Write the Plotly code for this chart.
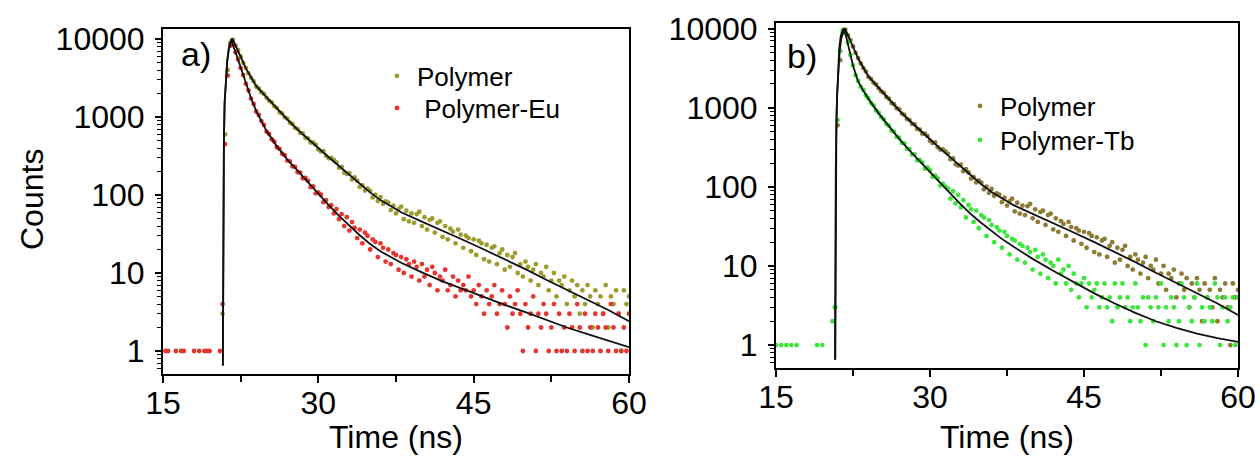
import numpy as np
import plotly.graph_objects as go

# TCSPC channel times (ns), 0.25 ns per channel from 15 to 60 ns
time_ns = np.round(np.arange(15.0, 60.0 + 1e-9, 0.25), 2).tolist()

# ---- measured counts per channel (None = empty channel) ----
polymer_pre = [None] * 23 + [3, 600, 4000, 8900]
polymer_decay = [
    9750, 8250, 7180, 5960, 4950, 4250, 3630, 3180, 2870, 2460,
    2320, 2080, 1970, 1760, 1610, 1540, 1370, 1300, 1150, 1110,
    990, 955, 845, 815, 725, 700, 625, 615, 540, 531,
    470, 472, 441, 384, 360, 366, 318, 296, 298, 281,
    262, 224, 229, 193, 186, 191, 158, 168, 152, 127,
    133, 114, 121, 113, 93, 101, 84, 94, 77, 83,
    80, 64, 73, 58, 66, 71, 49, 63, 46, 58,
    44, 57, 61, 40, 52, 36, 48, 50, 33, 44,
    46, 29, 40, 27, 37, 34, 24, 36, 31, 21,
    30, 28, 19, 27, 17, 26, 24, 15, 23, 14,
    21, 22, 13, 18, 20, 11, 17, 12, 16, 18,
    10, 13, 9, 14, 12, 8, 11, 13, 7, 10,
    9, 12, 6, 8, 10, 5, 8, 7, 9, 4,
    6, 8, 5, 7, 3, 6, 4, 7, 5, 2,
    6, 4, 5, 3, 7, 2, 5, 4, 6, 3,
    1, 6, 4, 5,
]
polymer_counts = polymer_pre + polymer_decay

eu_pre = [None, 1, 1, None, None, 1, None, 1, 1, None, None, None,
          1, None, 1, None, 1, 1, 1, None, None, None, 1,
          4, 450, 3400, 8200]
eu_decay = [
    8400, 6750, 5450, 4250, 3450, 2660, 2190, 1720, 1470, 1180,
    1060, 885, 790, 648, 603, 518, 482, 409, 391, 338,
    324, 276, 270, 233, 229, 196, 194, 164, 165, 152,
    126, 129, 105, 108, 101, 81, 86, 70, 74, 58,
    66, 49, 57, 40, 52, 35, 45, 38, 28, 36,
    24, 33, 30, 20, 27, 25, 16, 24, 21, 14,
    20, 13, 18, 17, 11, 16, 10, 15, 13, 9,
    14, 12, 8, 13, 9, 11, 7, 12, 10, 6,
    9, 8, 11, 6, 7, 9, 5, 8, 6, 7,
    6, 9, 5, 6, 4, 7, 5, 3, 6, 4,
    5, 7, 3, 4, 6, 4, 2, 5, 3, 4,
    6, 3, 1, 4, 2, 3, 5, 1, 3, 2,
    4, 3, 1, 2, 4, 1, 3, 1, 2, 1,
    3, 2, 1, 4, 2, 1, 3, 1, 2, 1,
    3, 2, 1, 3, 2, 1, 4, 2, 1, 3,
    1, 2, 1, 3,
]
eu_counts = eu_pre + eu_decay

tb_pre = [1, None, 1, None, 1, None, 1, None, 1, None, None, None,
          None, None, None, None, 1, None, 1, None, None, None, 2,
          3, 700, 5200, 9600]
tb_decay = [
    8700, 6650, 4650, 3440, 2570, 2180, 1850, 1680, 1430, 1320,
    1150, 1070, 925, 868, 760, 712, 622, 595, 515, 499,
    428, 418, 360, 355, 302, 301, 256, 258, 216, 219,
    204, 170, 176, 161, 134, 139, 128, 104, 110, 101,
    95, 71, 88, 62, 79, 55, 68, 41, 59, 52,
    36, 50, 30, 44, 41, 24, 38, 33, 20, 31,
    28, 17, 27, 24, 14, 22, 21, 12, 19, 18,
    11, 17, 15, 9, 16, 13, 8, 14, 12, 7,
    11, 10, 6, 12, 8, 9, 6, 10, 5, 8,
    6, 4, 6, 7, 3, 6, 4, 5, 6, 3,
    4, 6, 3, 4, 2, 6, 3, 4, 6, 3,
    4, 2, 3, 6, 3, 2, 4, 1, 4, 3,
    2, 4, 3, 6, 1, 3, 2, 4, 3, 1,
    2, 6, 4, 1, 3, 2, 4, 6, 1, 3,
    2, 4, 3, 2, 6, 4, 1, 3, 4, 2,
    3, 4, 1, 4,
]
tb_counts = tb_pre + tb_decay

assert len(polymer_counts) == len(time_ns)
assert len(eu_counts) == len(time_ns)
assert len(tb_counts) == len(time_ns)

# ---- fitted decay curves ----
poly_fit_t = [20.78, 20.82, 20.88, 20.95, 21.05, 21.2, 21.35, 21.5, 21.62, 21.68,
              21.8, 22.0, 22.25, 22.5, 22.75, 23.0, 23.5, 24.0, 24.5, 25.0, 25.5,
              26.0, 27.0, 28.0, 29.0, 30.0, 31.0, 32.0, 33.0, 34.0, 35.0, 36.0,
              37.0, 38.0, 40.0, 42.0, 44.0, 46.0, 48.0, 50.0, 52.0, 54.0, 56.0,
              58.0, 60.0]
poly_fit_y = [0.65, 50, 500, 1500, 3000, 5200, 7400, 9200, 9950, 10000,
              9500, 8300, 7100, 6000, 5000, 4200, 3200, 2500, 2110, 1780, 1510,
              1280, 930, 690, 520, 400, 305, 235, 178, 137, 108, 86,
              71, 60, 45.5, 35, 26.5, 20, 15, 11.2, 8.2, 6.1, 4.55,
              3.35, 2.4]

eu_fit_t = [20.78, 20.82, 20.88, 20.95, 21.05, 21.2, 21.35, 21.5, 21.6, 21.65,
            21.75, 22.0, 22.25, 22.5, 22.75, 23.0, 23.25, 23.5, 24.0, 24.5,
            25.0, 25.5, 26.0, 26.5, 27.0, 28.0, 29.0, 30.0, 31.0, 32.0, 33.0,
            34.0, 35.0, 36.0, 37.0, 38.0, 40.0, 42.0, 44.0, 46.0, 48.0, 50.0,
            52.0, 54.0, 56.0, 58.0, 60.0]
eu_fit_y = [0.65, 50, 500, 1500, 3000, 5200, 7400, 9200, 9950, 10000,
            8300, 6800, 5400, 4300, 3400, 2700, 2150, 1750, 1200, 900,
            660, 530, 420, 348, 285, 205, 145, 103, 74, 54, 40,
            30.5, 23.5, 19, 16, 13.5, 10.2, 7.8, 6.2, 4.9, 3.9, 3.15,
            2.5, 2.0, 1.65, 1.35, 1.12]

tb_fit_t = [20.74, 20.77, 20.82, 20.9, 21.0, 21.15, 21.3, 21.45, 21.55, 21.75,
            22.0, 22.25, 22.5, 22.75, 23.0, 23.5, 24.0, 25.0, 26.0, 27.0, 28.0,
            29.0, 30.0, 31.0, 32.0, 33.0, 34.0, 35.0, 36.0, 37.0, 38.0, 40.0,
            42.0, 44.0, 46.0, 48.0, 50.0, 52.0, 54.0, 56.0, 58.0, 60.0]
tb_fit_y = [0.65, 10, 150, 900, 2500, 5500, 8000, 9600, 10000, 8800,
            6600, 4700, 3400, 2600, 2150, 1650, 1300, 850, 580, 405, 290,
            210, 155, 113, 82, 60, 45, 35, 27.5, 22, 18, 12.3,
            8.7, 6.2, 4.5, 3.35, 2.55, 2.0, 1.65, 1.4, 1.22, 1.1]

# ---- styling ----
FONT = "Liberation Sans, Arial, sans-serif"
W, H = 1260, 456
OLIVE_A = "#9d9d2e"
OLIVE_B = "#8c7c34"
RED = "#e8342e"
GREEN = "#3ce63c"
FIT = "#111111"

y_major = [1, 10, 100, 1000, 10000]
y_minor = [m * d for d in (0.1, 1, 10, 100, 1000) for m in range(2, 10)]

fig = go.Figure()


def dots(y, color, name, xa, ya, legend):
    fig.add_trace(go.Scatter(
        x=time_ns, y=y, mode="markers", name=name,
        marker=dict(size=4.8, color=color, line=dict(width=0)),
        xaxis=xa, yaxis=ya, legend=legend, showlegend=True,
    ))


def fitline(t, y, xa, ya):
    fig.add_trace(go.Scatter(
        x=t, y=y, mode="lines", line=dict(color=FIT, width=1.8),
        xaxis=xa, yaxis=ya, showlegend=False, hoverinfo="skip",
    ))


# panel a
dots(polymer_counts, OLIVE_A, "Polymer", "x", "y", "legend")
dots(eu_counts, RED, " Polymer-Eu", "x", "y", "legend2")
fitline(poly_fit_t, poly_fit_y, "x", "y")
fitline(eu_fit_t, eu_fit_y, "x", "y")

# panel b
dots(polymer_counts, OLIVE_B, "Polymer", "x2", "y2", "legend3")
dots(tb_counts, GREEN, "Polymer-Tb", "x2", "y2", "legend4")
fitline(poly_fit_t, poly_fit_y, "x2", "y2")
fitline(tb_fit_t, tb_fit_y, "x2", "y2")


def xaxis(domain, anchor):
    return dict(
        domain=domain, anchor=anchor, range=[15, 60], automargin=False,
        tickvals=[15, 30, 45, 60], ticks="outside", ticklen=7, tickwidth=1.5,
        tickcolor="black", ticklabelstandoff=-7,
        minor=dict(tickvals=[22.5, 37.5, 52.5], ticks="outside", ticklen=6,
                   tickwidth=1.5, tickcolor="black"),
        showline=True, linewidth=2, linecolor="black", mirror=True,
        showgrid=False, zeroline=False,
        tickfont=dict(family=FONT, size=32, color="black"),
    )


def yaxis(domain, anchor, rng):
    return dict(
        domain=domain, anchor=anchor, type="log", range=rng, automargin=False,
        tickvals=y_major, ticktext=[str(v) for v in y_major],
        ticks="outside", ticklen=6, tickwidth=1.5, tickcolor="black",
        ticklabelstandoff=4,
        minor=dict(tickvals=y_minor, ticks="outside", ticklen=4,
                   tickwidth=1, tickcolor="black"),
        showline=True, linewidth=2, linecolor="black", mirror=True,
        showgrid=False, zeroline=False,
        tickfont=dict(family=FONT, size=32, color="black"),
    )


def legend(x_px, y_px):
    return dict(
        x=x_px / W, y=1 - y_px / H, xanchor="left", yanchor="middle",
        bgcolor="rgba(0,0,0,0)", borderwidth=0,
        font=dict(family=FONT, size=26, color="black"),
        itemsizing="trace",
    )


fig.update_layout(
    width=W, height=H, autosize=False,
    margin=dict(l=0, r=0, t=0, b=0, pad=0),
    paper_bgcolor="white", plot_bgcolor="white",
    font=dict(family=FONT, color="black"),
    xaxis=xaxis([163 / W, 629 / W], "y"),
    yaxis=yaxis([82 / H, 427 / H], "x", [-0.295, 4.128]),
    xaxis2=xaxis([776 / W, 1238 / W], "y2"),
    yaxis2=yaxis([88 / H, 433 / H], "x2", [-0.29, 4.072]),
    legend=legend(377, 76),
    legend2=legend(377, 108),
    legend3=legend(960, 106),
    legend4=legend(960, 140),
    annotations=[
        dict(text="a)", x=179 / W, y=1 - 54 / H, xref="paper", yref="paper",
             xanchor="left", yanchor="middle", showarrow=False,
             font=dict(family=FONT, size=34, color="black")),
        dict(text="b)", x=785 / W, y=1 - 56 / H, xref="paper", yref="paper",
             xanchor="left", yanchor="middle", showarrow=False,
             font=dict(family=FONT, size=34, color="black")),
        dict(text="Counts", x=32 / W, y=1 - 200 / H, xref="paper", yref="paper",
             xanchor="center", yanchor="middle", textangle=-90, showarrow=False,
             font=dict(family=FONT, size=32, color="black")),
        dict(text="Time (ns)", x=396 / W, y=1 - 437 / H, xref="paper", yref="paper",
             xanchor="center", yanchor="middle", showarrow=False,
             font=dict(family=FONT, size=32, color="black")),
        dict(text="Time (ns)", x=1007 / W, y=1 - 437 / H, xref="paper", yref="paper",
             xanchor="center", yanchor="middle", showarrow=False,
             font=dict(family=FONT, size=32, color="black")),
    ],
)

fig.write_html("out.html")
